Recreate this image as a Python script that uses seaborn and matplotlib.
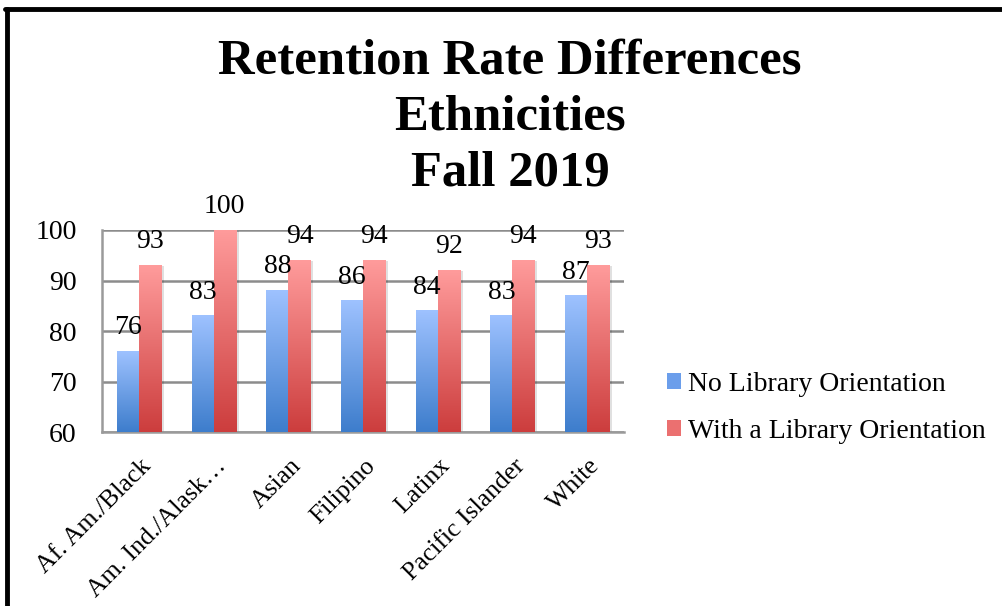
import numpy as np
import pandas as pd
import matplotlib
matplotlib.use("Agg")
import matplotlib.pyplot as plt
import seaborn as sns
from matplotlib.lines import Line2D
from matplotlib.patches import Patch, Rectangle
import matplotlib.transforms as mtransforms

categories = ["Af. Am./Black", "Am. Ind./Alask…", "Asian", "Filipino",
              "Latinx", "Pacific Islander", "White"]
no_orientation = [76, 83, 88, 86, 84, 83, 87]
with_orientation = [93, 100, 94, 94, 92, 94, 93]
series_names = ["No Library Orientation", "With a Library Orientation"]
title_lines = ["Retention Rate Differences", "Ethnicities", "Fall 2019"]
y_ticks = [60, 70, 80, 90, 100]

df = pd.DataFrame({
    "Ethnicity": categories * 2,
    "Rate": no_orientation + with_orientation,
    "Group": [series_names[0]] * len(categories) + [series_names[1]] * len(categories),
})

sns.set_theme(style="white")
plt.rcParams["font.family"] = ["Liberation Serif", "DejaVu Serif"]
plt.rcParams["text.color"] = "black"
plt.rcParams["xtick.color"] = "black"
plt.rcParams["ytick.color"] = "black"

grad_colors = {
    series_names[0]: ((0.62, 0.76, 1.0), (0.24, 0.49, 0.80)),
    series_names[1]: ((1.0, 0.61, 0.61), (0.80, 0.24, 0.24)),
}

fig = plt.figure(figsize=(10.03, 6.06), dpi=100)
ax = fig.add_axes([0.1015, 0.287, 0.521, 0.3335])

sns.barplot(data=df, x="Ethnicity", y="Rate", hue="Group", ax=ax,
            width=0.59, palette=[grad_colors[s][1] for s in series_names],
            legend=False, saturation=1)

YMIN, YMAX = 60, 100
ax.set_ylim(YMIN, YMAX)
ax.set_yticks(y_ticks)
ax.set_xlim(-0.5, len(categories) - 0.5)
ax.yaxis.grid(True, color="#8c8c8c", linewidth=1.8)
ax.set_axisbelow(True)
for s in ["top", "right"]:
    ax.spines[s].set_visible(False)
for s in ["left", "bottom"]:
    ax.spines[s].set_color("#9a9a9a")
    ax.spines[s].set_linewidth(1.8)
ax.set_xlabel("")
ax.set_ylabel("")
ax.tick_params(axis="both", length=0, labelsize=20, labelcolor="black")
ax.tick_params(axis="x", labelsize=18.5, pad=22)
ax.tick_params(axis="y", pad=18)
shift = mtransforms.ScaledTranslation(9 / 100, 0, fig.dpi_scale_trans)
for lab in ax.get_xticklabels():
    lab.set_rotation(45)
    lab.set_ha("right")
    lab.set_va("center")
    lab.set_rotation_mode("anchor")
    lab.set_transform(lab.get_transform() + shift)

# gradient fill per bar, with soft shadow
shadow_tr = ax.transData + mtransforms.ScaledTranslation(3 / 100, -1 / 100, fig.dpi_scale_trans)
for container, name in zip(ax.containers, series_names):
    top_c, bot_c = grad_colors[name]
    t = np.linspace(0, 1, 256)
    img = np.zeros((256, 1, 3))
    for k in range(3):
        img[:, 0, k] = top_c[k] + (bot_c[k] - top_c[k]) * t
    for bar in container:
        x0, w, h = bar.get_x(), bar.get_width(), bar.get_height()
        bar.set_visible(False)
        ax.add_patch(Rectangle((x0, YMIN), w, h - YMIN, transform=shadow_tr,
                               facecolor="black", alpha=0.12, edgecolor="none", zorder=2))
        ax.imshow(img, extent=[x0, x0 + w, YMIN, h], aspect="auto",
                  origin="upper", zorder=3, interpolation="bicubic")

for container in ax.containers:
    for txt in ax.bar_label(container, fontsize=20, padding=8, color="black"):
        txt.set_zorder(6)
        txt.set_clip_on(False)

ax.set_ylim(YMIN, YMAX)
ax.set_xlim(-0.5, len(categories) - 0.5)

handles = [Patch(facecolor=(0.42, 0.62, 0.92), edgecolor="none"),
           Patch(facecolor=(0.92, 0.44, 0.44), edgecolor="none")]
fig.legend(handles, series_names, loc="center left", bbox_to_anchor=(0.640, 0.327),
           frameon=False, fontsize=20, handlelength=0.5, handleheight=0.5,
           handletextpad=0.25, labelspacing=0.8)

for line, ypx in zip(title_lines, [73, 130, 185]):
    fig.text(0.5085, 1 - ypx / 606, line, ha="center", va="baseline",
             fontsize=36.5, fontweight="bold")

# outer frame (top and left edges)
fig.add_artist(Line2D([0.005, 1.0], [0.985, 0.985], color="black", linewidth=3.5,
                      transform=fig.transFigure))
fig.add_artist(Line2D([0.007, 0.007], [0.0, 0.985], color="black", linewidth=3.5,
                      transform=fig.transFigure))

fig.savefig("out.png", dpi=100)
